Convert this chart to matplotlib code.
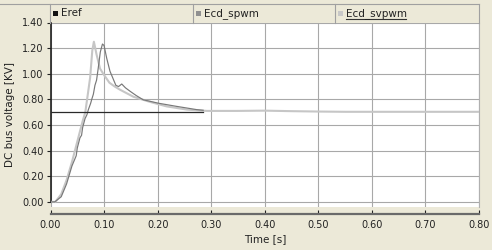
import matplotlib
matplotlib.use("Agg")
import matplotlib.pyplot as plt
from matplotlib.lines import Line2D
from matplotlib.patches import Rectangle

# ---- data ----
series_names = ["Eref", "Ecd_spwm", "Ecd_svpwm"]

t_eref = [0.0, 0.285]
v_eref = [0.705, 0.705]

t_spwm = [0.0, 0.008, 0.02, 0.03, 0.04, 0.045, 0.048, 0.05, 0.055, 0.058, 0.06,
          0.0645, 0.068, 0.0707, 0.075, 0.077, 0.080, 0.083, 0.086, 0.089, 0.093,
          0.097, 0.100, 0.105, 0.111, 0.117, 0.122, 0.127, 0.133, 0.14, 0.149,
          0.16, 0.173, 0.2015, 0.236, 0.273, 0.285]
v_spwm = [0.0, 0.0, 0.04, 0.14, 0.28, 0.33, 0.36, 0.42, 0.50, 0.52, 0.58,
          0.65, 0.68, 0.72, 0.77, 0.80, 0.84, 0.91, 0.95, 1.04, 1.17,
          1.232, 1.22, 1.12, 1.02, 0.96, 0.91, 0.90, 0.92, 0.89, 0.862,
          0.83, 0.797, 0.77, 0.745, 0.72, 0.715]

t_svpwm = [0.0, 0.009, 0.02, 0.03, 0.04, 0.05, 0.055, 0.06, 0.065, 0.07, 0.074,
           0.078, 0.081, 0.086, 0.0925, 0.10, 0.11, 0.12, 0.13, 0.155, 0.186,
           0.217, 0.255, 0.292, 0.35, 0.40, 0.45, 0.50, 0.55, 0.60, 0.70, 0.80]
v_svpwm = [0.0, 0.0, 0.06, 0.17, 0.31, 0.47, 0.55, 0.63, 0.70, 0.85, 0.97,
           1.18, 1.25, 1.15, 1.04, 0.99, 0.93, 0.90, 0.875, 0.82, 0.78,
           0.745, 0.72, 0.71, 0.71, 0.712, 0.708, 0.705, 0.703, 0.703, 0.703, 0.703]

x_ticks = [0.0, 0.1, 0.2, 0.3, 0.4, 0.5, 0.6, 0.7, 0.8]
y_ticks = [0.0, 0.2, 0.4, 0.6, 0.8, 1.0, 1.2, 1.4]

# ---- figure ----
W, H = 492, 250
BG = "#ECE9D8"
plt.rcParams["font.family"] = ["DejaVu Sans"]
fig = plt.figure(figsize=(W / 100, H / 100), dpi=100, facecolor=BG)

def fx(px):
    return px / W

def fy(py):
    return 1 - py / H

left, right, top, bottom = 50.5, 479, 22.5, 207
ax = fig.add_axes([fx(left), fy(bottom), fx(right - left), (bottom - top) / H])
ax.set_facecolor("white")

ax.plot(t_svpwm, v_svpwm, color="#c6c6c6", lw=1.5, solid_joinstyle="round", zorder=3)
ax.plot(t_spwm, v_spwm, color="#787878", lw=0.85, zorder=4)
ax.plot(t_eref, v_eref, color="#2a2a2a", lw=0.9, zorder=5)

for s in ["top"]:
    ax.spines[s].set_visible(False)
ax.spines["right"].set_color("#b0b0b0")
ax.spines["right"].set_linewidth(0.8)
ax.spines["left"].set_color("#222222")
ax.spines["left"].set_linewidth(1.2)
ax.spines["bottom"].set_position(("outward", 5))
ax.spines["bottom"].set_color("#6a6a6a")
ax.spines["bottom"].set_linewidth(1.6)

ax.set_xlim(0, 0.8)
ax.set_ylim(-0.04, 1.40)
ax.spines["left"].set_bounds(0, 1.4)
ax.set_xticks(x_ticks)
ax.set_yticks(y_ticks)
ax.set_xticklabels([f"{v:.2f}" for v in x_ticks])
ax.set_yticklabels([f"{v:.2f}" for v in y_ticks])
ax.grid(True, color="#a8a8a8", lw=0.8)
ax.set_axisbelow(True)

ax.tick_params(axis="y", direction="out", length=3, width=0.8, pad=2,
               colors="#222222", labelsize=7)
ax.tick_params(axis="x", direction="in", length=3, width=0.8, pad=4,
               colors="#222222", labelsize=7)

ax.set_ylabel("DC bus voltage [KV]", fontsize=7.5, color="#222222", labelpad=5)
ax.set_xlabel("Time [s]", fontsize=7.5, color="#222222", labelpad=3)

# ---- legend bar ----
border = "#a0a0a0"
fig.add_artist(Line2D([fx(0), fx(479)], [fy(4), fy(4)], color=border, lw=0.8))
for xp in [49.5, 193, 334.5, 479]:
    fig.add_artist(Line2D([fx(xp), fx(xp)], [fy(4), fy(22.5)], color=border, lw=0.8))

legend_x = [53, 196, 338]
legend_colors = ["#111111", "#909090", "#c8c8c8"]
for name, xp, c in zip(series_names, legend_x, legend_colors):
    fig.add_artist(Rectangle((fx(xp), fy(16)), fx(5), 5 / H, facecolor=c,
                             edgecolor="none", transform=fig.transFigure))
    fig.text(fx(xp + 8), fy(13.5), name, fontsize=7.5, color="#222222",
             va="center", ha="left")
# underline for the selected entry
fig.add_artist(Line2D([fx(346), fx(406)], [fy(19), fy(19)], color="#333333", lw=0.8))

fig.savefig("out.png", dpi=100, facecolor=BG)
